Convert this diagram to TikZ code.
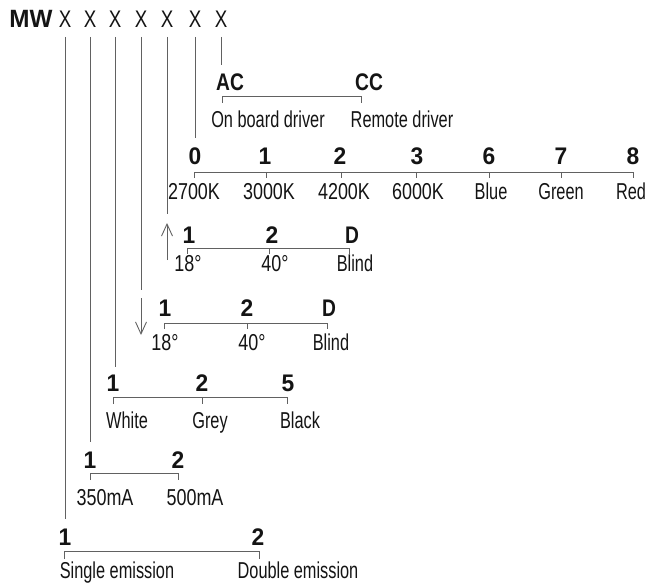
\documentclass[tikz,border=0pt]{standalone}
\usepackage{fontspec}
\setmainfont{Liberation Sans}[FakeStretch=0.71]
\newfontfamily\digfont{Liberation Sans}[FakeStretch=0.78]
\newfontfamily\numfont{Liberation Sans}[FakeStretch=0.95]
\newfontfamily\letfont{Liberation Sans}[FakeStretch=0.8]
\newfontfamily\mwfont{Liberation Sans}[FakeStretch=0.97]
\usetikzlibrary{arrows.meta}
\definecolor{ln}{gray}{0.38}
\definecolor{tx}{gray}{0.08}
\begin{document}
\begin{tikzpicture}[x=1pt,y=-1pt,
  lab/.style={inner sep=0pt, text height=16.4pt, text depth=0pt,
    font=\fontsize{23}{27}\selectfont, text=tx},
  dlab/.style={lab, font=\digfont\fontsize{23}{27}\selectfont},
  num/.style={inner sep=0pt, text height=17.2pt, text depth=0pt, text=tx,
    font=\numfont\bfseries\fontsize{24}{28}\selectfont},
  let/.style={num, font=\letfont\bfseries\fontsize{24}{28}\selectfont},
  xl/.style={inner sep=0pt, text height=17.2pt, text depth=0pt,
    font=\digfont\fontsize{24}{28}\selectfont, text=tx},
  wire/.style={draw=ln, line width=0.9pt},
  arr/.style={wire, -{Straight Barb[length=12pt,width=11pt]}}]
\useasboundingbox (0,0) rectangle (647,583);

% header
\node[inner sep=0pt, text height=17.9pt, text depth=0pt, text=tx,
  font=\mwfont\bfseries\fontsize{25}{29}\selectfont] (mw) at (31,19) {MW};
\node[xl] (x1) at (65,19) {X};
\node[xl] (x2) at (90,19) {X};
\node[xl] (x3) at (115,19) {X};
\node[xl] (x4) at (141,19) {X};
\node[xl] (x5) at (167,19) {X};
\node[xl] (x6) at (195,19) {X};
\node[xl] (x7) at (221,19) {X};

% line ends
\coordinate (c1) at (65,519);
\coordinate (c2) at (90,442);
\coordinate (c3) at (115,367);
\coordinate (c4) at (141,290);
\coordinate (c5) at (167,214);
\coordinate (c6) at (195,138);
\coordinate (c7) at (221,65);
\foreach \i in {1,...,7} {\draw[wire] ([yshift=-9pt]x\i.south) -- (c\i);}

% arrows
\coordinate (da1) at (141,298);
\coordinate (da2) at (141,335);
\coordinate (ua1) at (167,260);
\coordinate (ua2) at (167,223);
\draw[arr] (da1) -- (da2);
\draw[arr] (ua1) -- (ua2);

% AC / CC
\node[let] (ac) at (230,82) {AC};
\node[let] (cc) at (369,82) {CC};
\coordinate (bac) at (222,96);
\coordinate (bcc) at (361,96);
\draw[wire] ([yshift=-7pt]bac) -- (bac) -- (bcc) -- ([yshift=-7pt]bcc);
\node[lab] (onb) at (268,119) {On board driver};
\node[lab] (rem) at (402,119) {Remote driver};

% colour temperature
\node[num] (t0) at (195,156) {0};
\node[num] (t1) at (265,156) {1};
\node[num] (t2) at (340,156) {2};
\node[num] (t3) at (417,156) {3};
\node[num] (t6) at (489,156) {6};
\node[num] (t7) at (561,156) {7};
\node[num] (t8) at (633,156) {8};
\coordinate (bt0) at (194,172);
\coordinate (bt1) at (266,172);
\coordinate (bt2) at (341,172);
\coordinate (bt3) at (416,172);
\coordinate (bt6) at (489,172);
\coordinate (bt7) at (561,172);
\coordinate (bt8) at (633,172);
\draw[wire] ([yshift=-6pt]bt0) -- (bt0) -- (bt8) -- ([yshift=-6pt]bt8);
\foreach \i in {1,2,3,6,7} {\draw[wire] (bt\i) -- ([yshift=-6pt]bt\i);}
\node[dlab] (l0) at (194,191) {2700K};
\node[dlab] (l1) at (269,191) {3000K};
\node[dlab] (l2) at (344,191) {4200K};
\node[dlab] (l3) at (418,191) {6000K};
\node[lab] (l6) at (491,191) {Blue};
\node[lab] (l7) at (561,191) {Green};
\node[lab] (l8) at (631,191) {Red};

% beam angle 1
\node[num] (a1) at (189,235) {1};
\node[num] (a2) at (272,235) {2};
\node[let] (ad) at (352,235) {D};
\coordinate (ba1) at (187,248);
\coordinate (ba2) at (269,248);
\coordinate (bad) at (349,248);
\draw[wire] ([yshift=-6pt]ba1) -- (ba1) -- (bad) -- ([yshift=-6pt]bad);
\draw[wire] (ba2) -- ([yshift=-6pt]ba2);
\node[dlab] (la1) at (188,263) {18°};
\node[dlab] (la2) at (275,263) {40°};
\node[lab] (lad) at (355,263) {Blind};

% beam angle 2
\node[num] (b1) at (165,308) {1};
\node[num] (b2) at (247,308) {2};
\node[let] (bd) at (329,308) {D};
\coordinate (bb1) at (164,323);
\coordinate (bb2) at (247,323);
\coordinate (bbd) at (327,323);
\draw[wire] ([yshift=-6pt]bb1) -- (bb1) -- (bbd) -- ([yshift=-6pt]bbd);
\draw[wire] (bb2) -- ([yshift=-6pt]bb2);
\node[dlab] (lb1) at (165,342) {18°};
\node[dlab] (lb2) at (252,342) {40°};
\node[lab] (lbd) at (331,342) {Blind};

% colour
\node[num] (k1) at (113,383) {1};
\node[num] (k2) at (202,383) {2};
\node[num] (k5) at (288,383) {5};
\coordinate (bk1) at (113,397);
\coordinate (bk2) at (202,397);
\coordinate (bk5) at (287,397);
\draw[wire] ([yshift=-7pt]bk1) -- (bk1) -- (bk5) -- ([yshift=-7pt]bk5);
\draw[wire] (bk2) -- ([yshift=-7pt]bk2);
\node[lab] (lk1) at (127,420) {White};
\node[lab] (lk2) at (210,420) {Grey};
\node[lab] (lk5) at (300,420) {Black};

% current
\node[num] (m1) at (90,460) {1};
\node[num] (m2) at (178,460) {2};
\coordinate (bm1) at (90,473);
\coordinate (bm2) at (178,473);
\draw[wire] ([yshift=-7pt]bm1) -- (bm1) -- (bm2) -- ([yshift=-7pt]bm2);
\node[dlab] (lm1) at (105,497) {350mA};
\node[dlab] (lm2) at (195,497) {500mA};

% emission
\node[num] (e1) at (65,537) {1};
\node[num] (e2) at (258,537) {2};
\coordinate (be1) at (64,551);
\coordinate (be2) at (259,551);
\draw[wire] ([yshift=-8pt]be1) -- (be1) -- (be2) -- ([yshift=-8pt]be2);
\node[lab] (le1) at (117,570) {Single emission};
\node[lab] (le2) at (298,570) {Double emission};
\end{tikzpicture}
\end{document}
